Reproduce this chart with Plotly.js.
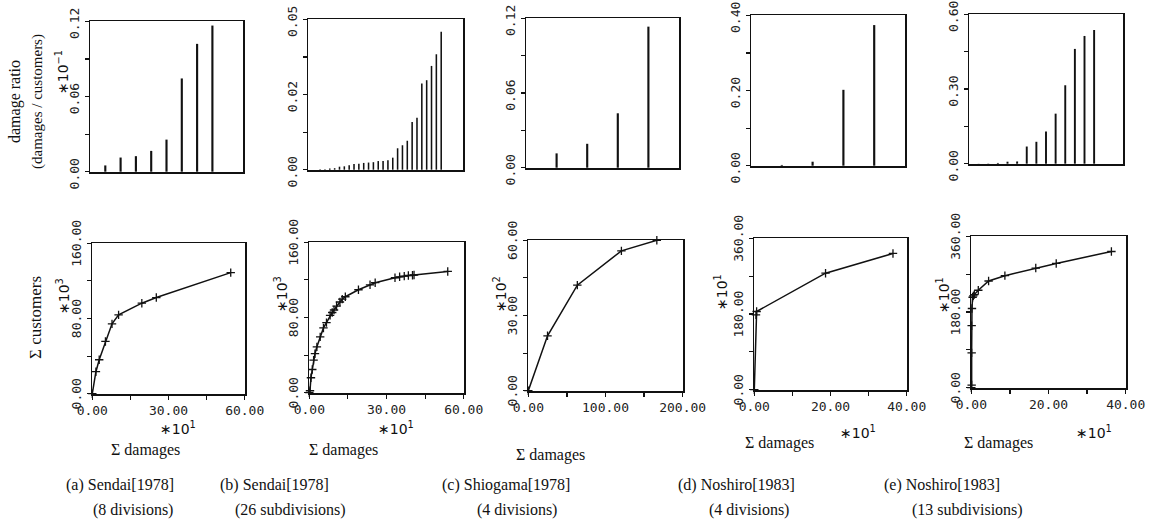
<!DOCTYPE html>
<html>
<head>
<meta charset="utf-8">
<script src="https://cdn.plot.ly/plotly-3.0.1.min.js"></script>
<style>html,body{margin:0;padding:0;background:#fff;}#chart{width:1155px;height:527px;}</style>
</head>
<body>
<div id="chart"></div>
<script>
// ---------- data: top row (damage ratio bars) ----------
const aBarX = [1, 2, 3, 4, 5, 6, 7, 8];
const aBarY = [0.005, 0.0113, 0.0124, 0.0166, 0.0256, 0.0744, 0.102, 0.1166];
const bBarX = [1, 2, 3, 4, 5, 6, 7, 8, 9, 10, 11, 12, 13, 14, 15, 16, 17, 18, 19, 20, 21, 22, 23, 24, 25, 26];
const bBarY = [0.0001, 0.0001, 0.0003, 0.0004, 0.0008, 0.0009, 0.0012, 0.0015, 0.0016, 0.0018, 0.0019, 0.0020, 0.0023,
               0.0023, 0.0025, 0.0032, 0.0057, 0.0065, 0.0077, 0.0127, 0.0138, 0.0229, 0.0238, 0.0276, 0.0307, 0.0367];
const cBarX = [1, 2, 3, 4];
const cBarY = [0.0115, 0.0192, 0.0437, 0.1133];
const dBarX = [1, 2, 3, 4];
const dBarY = [0.002, 0.0106, 0.2018, 0.374];
const eBarX = [1, 2, 3, 4, 5, 6, 7, 8, 9, 10, 11, 12, 13];
const eBarY = [0.0005, 0.001, 0.003, 0.008, 0.009, 0.069, 0.088, 0.129, 0.201, 0.315, 0.461, 0.513, 0.537];

// ---------- data: bottom row (cumulative curves) ----------
const aDamages = [0, 1.42, 2.72, 5.17, 7.76, 10.35, 19.5, 25.2, 54.5];
const aCustomers = [0, 23.4, 36.1, 55.6, 74.3, 83.9, 96.3, 102.3, 128.8];
const bDamages = [0, 0.26, 0.64, 1.15, 1.67, 2.2, 2.95, 4.23, 5.5, 6.67, 8.08, 8.9, 9.6, 10.6, 11.9, 12.8, 14.0,
                  19.1, 23.6, 25.6, 33.3, 35.1, 36.9, 38.5, 40.1, 40.7, 53.8];
const bCustomers = [0, 2.1, 15.9, 24.7, 34.6, 41.5, 48.8, 59.4, 68.9, 74.6, 82.3, 85.3, 88.0, 92.2, 96.5, 99.5, 102.1,
                    109.5, 114.8, 117.0, 122.3, 123.3, 124.0, 124.7, 124.9, 125.2, 129.0];
const cDamages = [0, 24.9, 63.5, 120.6, 166.5];
const cCustomers = [0, 21.9, 42.1, 55.8, 60.0];
const dDamages = [0, 0.44, 0.61, 18.7, 36.4];
const dCustomers = [0, 178, 186, 277, 324];
const eDamages = [0, 0.09, 0.09, 0.09, 0.17, 0.34, 0.52, 0.78, 1.81, 4.48, 8.7, 16.7, 22.0, 36.3];
const eCustomers = [0, 6.3, 82.7, 147.4, 188.3, 215.1, 218.3, 221.4, 231.7, 253.7, 266.4, 284.5, 295.5, 323.9];

// ---------- tick labels ----------
const topYTickVals = [[0, 0.03, 0.06, 0.09, 0.12], [0, 0.01, 0.02, 0.03, 0.04], [0, 0.03, 0.06, 0.09, 0.12],
                      [0, 0.1, 0.2, 0.3, 0.4], [0, 0.15, 0.3, 0.45, 0.6]];
const topYTickText = [["0.00", "", "0.06", "", "0.12"], ["0.00", "", "0.02", "", "0.05"], ["0.00", "", "0.06", "", "0.12"],
                      ["0.00", "", "0.20", "", "0.40"], ["0.00", "", "0.30", "", "0.60"]];
const botXTickVals = [[0, 15, 30, 45, 60], [0, 15, 30, 45, 60], [0, 50, 100, 150, 200], [0, 10, 20, 30, 40], [0, 10, 20, 30, 40]];
const botXTickText = [["0.00", "", "30.00", "", "60.00"], ["0.00", "", "30.00", "", "60.00"], ["0.00", "", "100.00", "", "200.00"],
                      ["0.00", "", "20.00", "", "40.00"], ["0.00", "", "20.00", "", "40.00"]];
const botYTickVals = [[0, 40, 80, 120, 160], [0, 40, 80, 120, 160], [0, 15, 30, 45, 60], [0, 90, 180, 270, 360], [0, 90, 180, 270, 360]];
const botYTickText = [["0.00", "", "80.00", "", "160.00"], ["0.00", "", "80.00", "", "160.00"], ["0.00", "", "30.00", "", "60.00"],
                      ["0.00", "", "180.00", "", "360.00"], ["0.00", "", "180.00", "", "360.00"]];
const captions1 = ["(a) Sendai[1978]", "(b) Sendai[1978]", "(c) Shiogama[1978]", "(d) Noshiro[1983]", "(e) Noshiro[1983]"];
const captions2 = ["(8 divisions)", "(26 subdivisions)", "(4 divisions)", "(4 divisions)", "(13 subdivisions)"];

// ---------- layout helpers ----------
const W = 1155, H = 527;
const fx = p => p / W;
const fy = p => 1 - p / H;

const topDom = [[90, 243, 21, 172], [308, 463, 19, 170], [526, 679, 18, 168], [751, 905, 15, 166], [969, 1123, 14, 164]];
const botDom = [[92, 245, 243, 394], [309, 464, 242, 393], [528, 683, 240, 391], [754, 907, 238, 390], [971, 1126, 236, 388]];
const topXRange = [[0, 10], [-1.5, 30.5], [0, 5], [0, 5], [0, 16]];
const barWidths = [0.14, 0.32, 0.07, 0.07, 0.2];

const tickFont = {family: "DejaVu Sans Mono, monospace", size: 13, color: "#222"};
const serif = "Liberation Serif, DejaVu Serif, serif";

const layout = {
  width: W, height: H,
  margin: {l: 0, r: 0, t: 0, b: 0},
  paper_bgcolor: "#fff", plot_bgcolor: "#fff",
  showlegend: false,
  annotations: []
};

function baseAxis() {
  return {showgrid: false, zeroline: false, showline: true, linecolor: "#111", linewidth: 1.5, mirror: true,
          ticks: "outside", ticklen: 4, tickwidth: 1.2, tickcolor: "#111", tickfont: tickFont, fixedrange: true,
          ticklabeloverflow: "allow"};
}
function tickSet(vals, texts) {
  const lv = [], lt = [];
  vals.forEach((v, k) => { if (texts[k] !== "") { lv.push(v); lt.push(texts[k]); } });
  const lo = vals[0], hi = vals[vals.length - 1], eps = (hi - lo) * 0.002;
  return {range: [lo - eps, hi + eps], tickmode: "array", tickvals: lv, ticktext: lt,
          minor: {tickmode: "array", tickvals: vals, ticks: "outside", ticklen: 4, tickwidth: 1.2, tickcolor: "#111", showgrid: false}};
}

const topBars = [[aBarX, aBarY], [bBarX, bBarY], [cBarX, cBarY], [dBarX, dBarY], [eBarX, eBarY]];
const botLines = [[aDamages, aCustomers], [bDamages, bCustomers], [cDamages, cCustomers], [dDamages, dCustomers], [eDamages, eCustomers]];
const data = [];

for (let i = 0; i < 5; i++) {
  const n = i + 1;
  const sfx = n === 1 ? "" : String(n);
  const d = topDom[i];
  layout["xaxis" + sfx] = Object.assign(baseAxis(), {domain: [fx(d[0]), fx(d[1])], range: topXRange[i], ticks: "",
                                                     showticklabels: false, anchor: "y" + sfx});
  layout["yaxis" + sfx] = Object.assign(baseAxis(), {domain: [fy(d[3]), fy(d[2])], tickangle: -90, anchor: "x" + sfx,
                                                     ticklabelshift: 4},
                                        tickSet(topYTickVals[i], topYTickText[i]));
  data.push({type: "bar", x: topBars[i][0], y: topBars[i][1], width: barWidths[i],
             marker: {color: "#111", line: {width: 0}}, xaxis: "x" + sfx, yaxis: "y" + sfx, hoverinfo: "skip"});
  const m = i + 6;
  const bd = botDom[i];
  layout["xaxis" + m] = Object.assign(baseAxis(), {domain: [fx(bd[0]), fx(bd[1])], anchor: "y" + m},
                                      tickSet(botXTickVals[i], botXTickText[i]));
  layout["yaxis" + m] = Object.assign(baseAxis(), {domain: [fy(bd[3]), fy(bd[2])], tickangle: -90, anchor: "x" + m,
                                                   ticklabelshift: 2},
                                      tickSet(botYTickVals[i], botYTickText[i]));
  data.push({type: "scatter", mode: "lines+markers", x: botLines[i][0], y: botLines[i][1],
             line: {color: "#111", width: 1.5},
             marker: {symbol: "cross-thin", size: 6, line: {color: "#111", width: 1.3}},
             cliponaxis: false, xaxis: "x" + m, yaxis: "y" + m, hoverinfo: "skip"});
}

function ann(text, x, y, opts) {
  layout.annotations.push(Object.assign({text: text, x: fx(x), y: fy(y), xref: "paper", yref: "paper",
    showarrow: false, xanchor: "center", yanchor: "middle",
    font: {family: serif, size: 14, color: "#111"}}, opts || {}));
}

// y-axis titles
ann("damage ratio", 15, 102, {textangle: -90, font: {family: serif, size: 16, color: "#111"}});
ann("(damages / customers)", 37, 102, {textangle: -90, font: {family: serif, size: 15, color: "#111"}});
ann("Σ customers", 35, 318, {textangle: -90, font: {family: serif, size: 17, color: "#111"}});

// exponent labels
const expFont = {family: "DejaVu Sans, sans-serif", size: 14, color: "#111"};
ann("∗10<sup>−1</sup>", 62, 72, {textangle: -90, font: expFont});
ann("∗10<sup>3</sup>", 63, 296, {textangle: -90, font: expFont});
ann("∗10<sup>3</sup>", 281, 294, {textangle: -90, font: expFont});
ann("∗10<sup>2</sup>", 500, 294, {textangle: -90, font: expFont});
ann("∗10<sup>1</sup>", 721, 292, {textangle: -90, font: expFont});
ann("∗10<sup>1</sup>", 943, 295, {textangle: -90, font: expFont});
ann("∗10<sup>1</sup>", 178, 428, {font: expFont});
ann("∗10<sup>1</sup>", 396, 428, {font: expFont});
ann("∗10<sup>1</sup>", 858, 432, {font: expFont});
ann("∗10<sup>1</sup>", 1094, 432, {font: expFont});

// x-axis titles
const sumX = [145, 343, 550, 779, 998];
const sumY = [450, 450, 455, 443, 443];
for (let i = 0; i < 5; i++) ann("Σ damages", sumX[i], sumY[i], {font: {family: serif, size: 16, color: "#111"}});

// captions
const capX1 = [120, 274, 506, 736, 942];
const capX2 = [133, 291, 517, 749, 967];
for (let i = 0; i < 5; i++) {
  ann(captions1[i], capX1[i], 485, {font: {family: serif, size: 16, color: "#111"}});
  ann(captions2[i], capX2[i], 510, {font: {family: serif, size: 16, color: "#111"}});
}

Plotly.newPlot("chart", data, layout, {staticPlot: true, displayModeBar: false});
</script>
</body>
</html>
